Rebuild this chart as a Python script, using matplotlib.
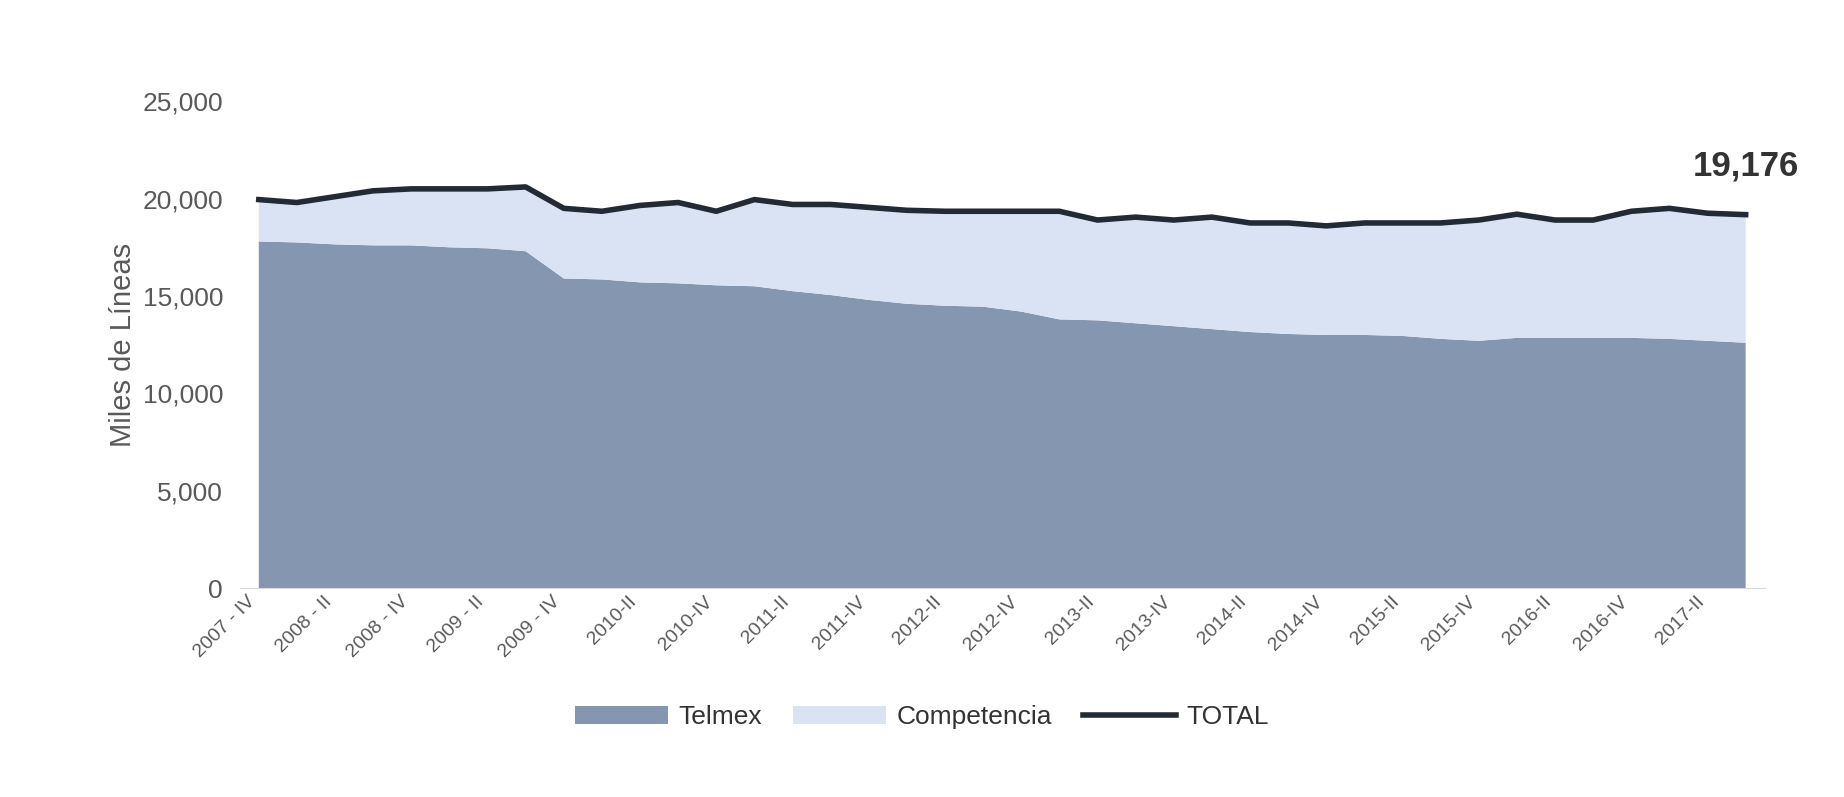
import matplotlib.pyplot as plt
import numpy as np

plt.rcParams['font.family'] = 'Liberation Sans'

roman = ['I', 'II', 'III', 'IV']
quarters = ['2007 - IV']
for y in range(2008, 2018):
    for q in roman:
        quarters.append(f'{y} - {q}' if y < 2010 else f'{y}-{q}')
quarters = quarters[:40]

total = [19950, 19800, 20100, 20400, 20500, 20500, 20500, 20600, 19500, 19350,
         19650, 19800, 19350, 19950, 19700, 19700, 19550, 19400, 19350, 19350,
         19350, 19350, 18900, 19050, 18900, 19050, 18750, 18750, 18600, 18750,
         18750, 18750, 18900, 19200, 18900, 18900, 19350, 19500, 19250, 19176]
telmex = [17800, 17750, 17650, 17600, 17600, 17500, 17450, 17300, 15900, 15850,
          15700, 15650, 15550, 15500, 15250, 15050, 14800, 14600, 14500, 14450,
          14200, 13800, 13750, 13600, 13450, 13300, 13150, 13050, 13000, 13000,
          12950, 12800, 12700, 12850, 12850, 12850, 12850, 12800, 12700, 12600]
competencia = [t - m for t, m in zip(total, telmex)]

fig = plt.figure(figsize=(18.44, 7.97), dpi=100)
ax = fig.add_axes([0.13, 0.262, 0.827, 0.611])
x = np.arange(len(quarters))
ax.stackplot(x, telmex, competencia, colors=['#8496b0', '#dae3f3'],
             labels=['Telmex', 'Competencia'])
ax.plot(x, total, color='#222a35', lw=4, label='TOTAL')
ax.annotate(f'{total[-1]:,}', (x[-1], total[-1]), xytext=(0, 28),
            textcoords='offset points', ha='center', fontsize=25,
            fontweight='bold', color='#333333')

ax.set_xlim(-0.5, len(x) - 0.5)
ax.set_ylim(0, 25000)
ax.set_yticks(range(0, 25001, 5000))
ax.yaxis.set_major_formatter(plt.FuncFormatter(lambda v, p: f'{int(v):,}'))
ax.set_xticks(x[::2])
ax.set_xticklabels(quarters[::2], rotation=45, ha='right', fontsize=14, color='#595959')
ax.tick_params(axis='y', labelsize=19, colors='#595959', length=0, pad=12)
ax.tick_params(axis='x', length=0)
ax.set_ylabel('Miles de Líneas', fontsize=21, color='#595959')
for s in ['top', 'right', 'left']:
    ax.spines[s].set_visible(False)
ax.spines['bottom'].set_color('#d9d9d9')

fig.legend(loc='center', bbox_to_anchor=(0.5, 0.1), ncol=3, frameon=False,
           fontsize=19, labelcolor='#333333', handlelength=3.5,
           columnspacing=1.2, handletextpad=0.4)
fig.savefig('out.png')
